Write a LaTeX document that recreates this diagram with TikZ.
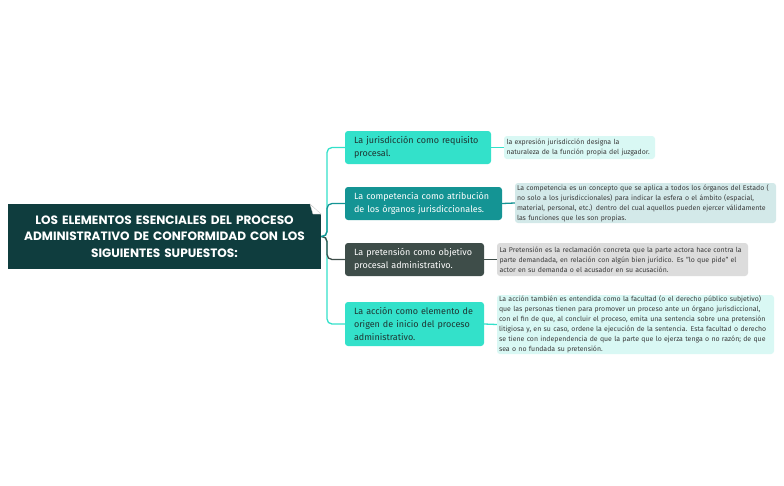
\documentclass[tikz,border=0pt]{standalone}
\usepackage{fontspec}
\setmainfont{Fira Sans}
\newfontfamily\titlefont{Poppins}
\definecolor{maincol}{HTML}{0F3D3E}
\definecolor{turq}{HTML}{33E1CA}
\definecolor{tealc}{HTML}{149494}
\definecolor{grayc}{HTML}{3E4D49}
\definecolor{lcyan}{HTML}{D9F8F4}
\definecolor{lblue}{HTML}{D3E9E9}
\definecolor{lgray}{HTML}{DCDCDC}
\definecolor{darktxt}{HTML}{1E3532}
\definecolor{dtxt}{HTML}{3A3A3A}
\begin{document}
\begin{tikzpicture}[x=1pt,y=-1pt,
  box/.style={rectangle, rounded corners=3pt, inner xsep=0pt, inner ysep=0pt, align=left},
  branch/.style={box, font=\fontsize{9}{12.8}\selectfont},
  detail/.style={box, font=\fontsize{6.95}{9.9}\selectfont, text=dtxt},
  conn/.style={line width=1.3pt, rounded corners=5pt}
]
\useasboundingbox[fill=white] (0,0) rectangle (784,485);

% main node
\node[fill=maincol, minimum width=313pt, minimum height=65pt, text width=305pt, align=center,
  text=white, font=\titlefont\bfseries\fontsize{12.1}{16.4}\selectfont, inner sep=0pt]
  (main) at (164.5,236.5) {LOS ELEMENTOS ESENCIALES DEL PROCESO\\ADMINISTRATIVO DE CONFORMIDAD CON LOS\\SIGUIENTES SUPUESTOS:};
\fill[white] (310,203.5) -- (321.5,203.5) -- (321.5,215) -- cycle;
\filldraw[fill=white, draw=gray!40, line width=0.4pt] (310,204) -- (313,214) -- (321,214) -- cycle;

% branches
\node[branch, fill=turq, text=darktxt, minimum width=146pt, minimum height=33pt, text width=128pt] (b1) at (418,147.5)
  {La jurisdicción como requisito\\procesal.};
\node[branch, fill=tealc, text=white, minimum width=157pt, minimum height=33pt, text width=139pt] (b2) at (423.5,203.5)
  {La competencia como atribución\\de los órganos jurisdiccionales.};
\node[branch, fill=grayc, text=white, minimum width=139pt, minimum height=33pt, text width=121pt] (b3) at (414.5,259.5)
  {La pretensión como objetivo\\procesal administrativo.};
\node[branch, fill=turq, text=darktxt, minimum width=139pt, minimum height=44pt, text width=121pt] (b4) at (414.5,324)
  {La acción como elemento de\\origen de inicio del proceso\\administrativo.};

% details
\node[detail, fill=lcyan, minimum width=151pt, minimum height=23pt, text width=146pt] (d1) at (579.5,147.5)
  {la expresión jurisdicción designa la\\naturaleza de la función propia del juzgador.};
\node[detail, fill=lblue, minimum width=261pt, minimum height=40pt, text width=257pt] (d2) at (645.5,203)
  {La competencia es un concepto que se aplica a todos los órganos del Estado (\\no solo a los jurisdiccionales) para indicar la esfera o el ámbito (espacial,\\material, personal, etc.) dentro del cual aquellos pueden ejercer válidamente\\las funciones que les son propias.};
\node[detail, fill=lgray, minimum width=251pt, minimum height=33pt, text width=246pt] (d3) at (622.5,259.5)
  {La Pretensión es la reclamación concreta que la parte actora hace contra la\\parte demandada, en relación con algún bien jurídico. Es "lo que pide" el\\actor en su demanda o el acusador en su acusación.};
\node[detail, fill=lcyan, minimum width=277pt, minimum height=59pt, text width=273pt] (d4) at (635.5,324.5)
  {La acción también es entendida como la facultad (o el derecho público subjetivo)\\que las personas tienen para promover un proceso ante un órgano jurisdiccional,\\con el fin de que, al concluir el proceso, emita una sentencia sobre una pretensión\\litigiosa y, en su caso, ordene la ejecución de la sentencia. Esta facultad o derecho\\se tiene con independencia de que la parte que lo ejerza tenga o no razón; de que\\sea o no fundada su pretensión.};

% connectors
\coordinate (sp) at (327,236.5);
\draw[conn, turq] (main.east) -- (sp) |- (b1.west);
\draw[conn, turq] (main.east) -- (sp) |- (b4.west);
\draw[conn, grayc] (main.east) -- (sp) |- (b3.west);
\draw[conn, tealc] (main.east) -- (sp) |- (b2.west);
\draw[conn, turq] (b1.east) -- (d1.west);
\draw[conn, tealc] (b2.east) -- (d2.west);
\draw[conn, grayc] (b3.east) -- (d3.west);
\draw[conn, turq] (b4.east) -- (d4.west);
\end{tikzpicture}
\end{document}
